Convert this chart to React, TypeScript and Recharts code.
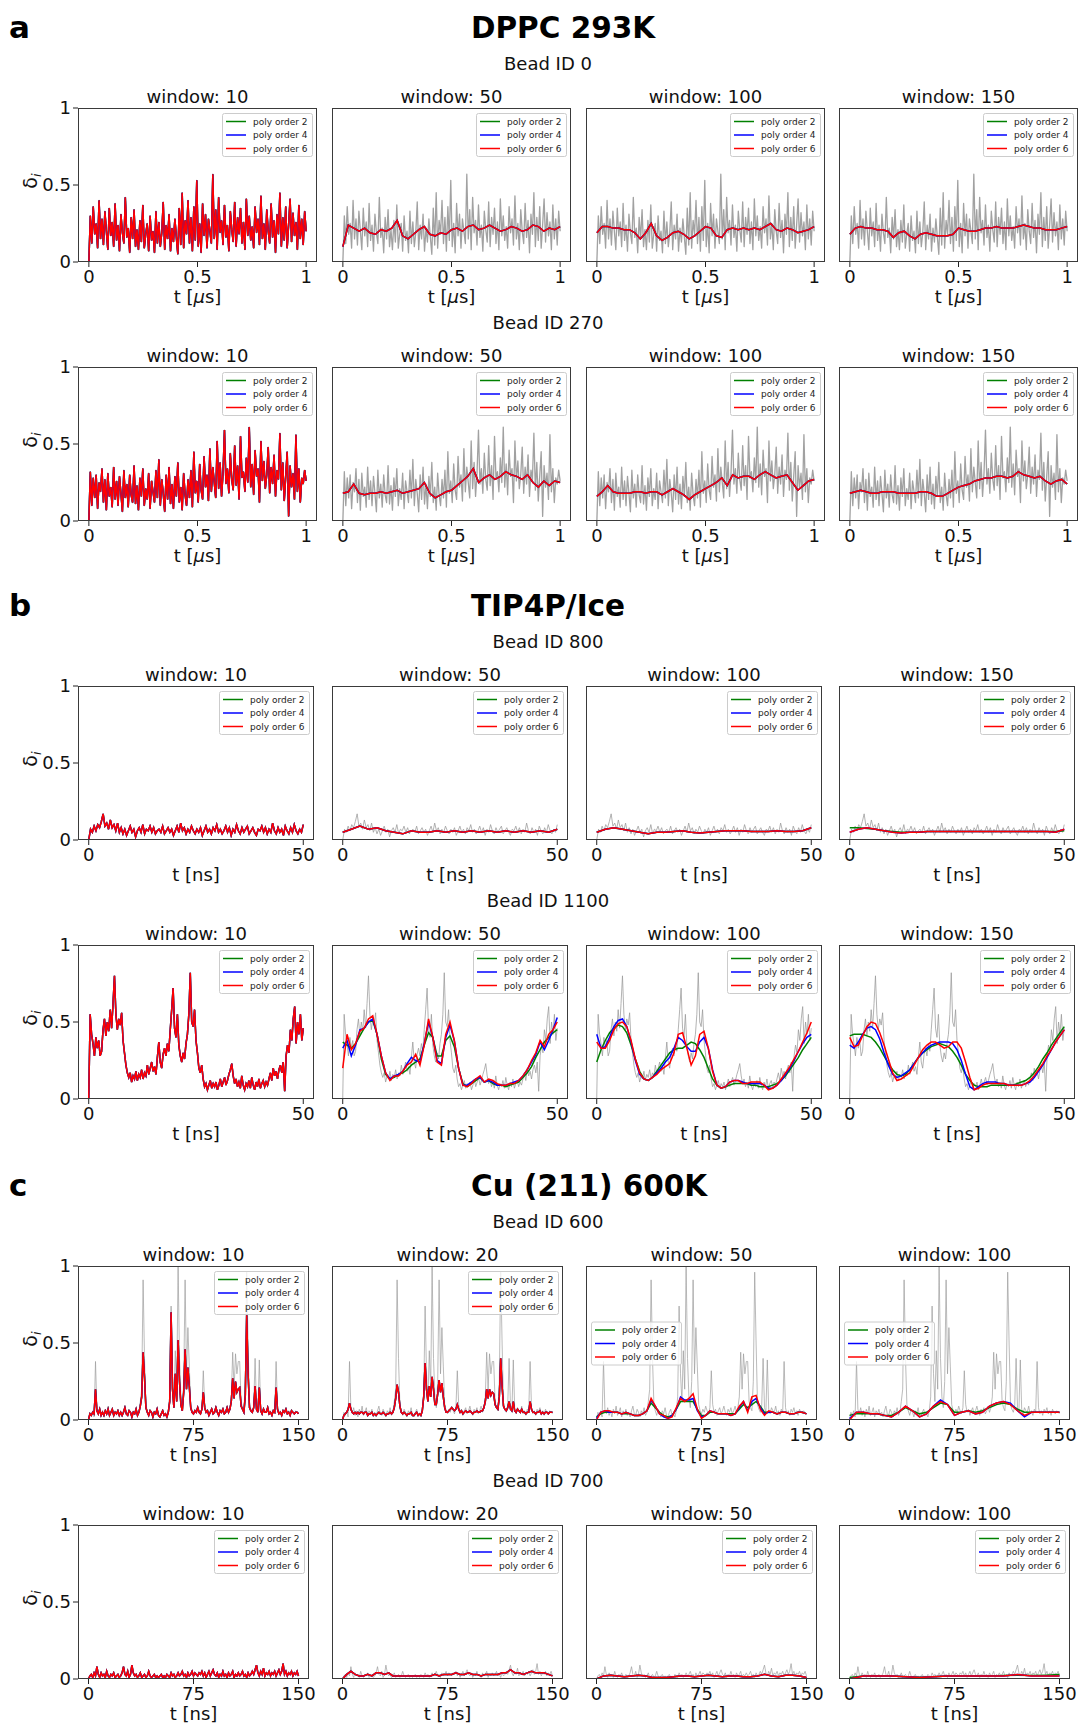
import React from 'react';
import { LineChart, Line, XAxis, YAxis } from 'recharts';

const FONT = '"DejaVu Sans", Verdana, sans-serif';

// ---------- a: DPPC 293K (t in µs) ----------
const A1_RAW = [
  0.0, 0.3, 0.12, 0.36, 0.18, 0.25, 0.09, 0.4, 0.15, 0.28,
  0.11, 0.33, 0.2, 0.08, 0.35, 0.17, 0.26, 0.1, 0.38, 0.14,
  0.24, 0.07, 0.31, 0.19, 0.12, 0.42, 0.16, 0.22, 0.06, 0.29,
  0.15, 0.34, 0.1, 0.21, 0.08, 0.27, 0.13, 0.37, 0.09, 0.18,
  0.25, 0.07, 0.3, 0.14, 0.2, 0.06, 0.33, 0.12, 0.26, 0.1,
  0.19, 0.39, 0.08, 0.24, 0.15, 0.31, 0.07, 0.22, 0.13, 0.28,
  0.16, 0.05, 0.35, 0.11, 0.45, 0.09, 0.27, 0.18, 0.4, 0.12,
  0.29, 0.07, 0.36, 0.14, 0.53, 0.1, 0.25, 0.06, 0.38, 0.17,
  0.31, 0.09, 0.28, 0.2, 0.12, 0.57, 0.15, 0.34, 0.08, 0.42,
  0.19, 0.27, 0.11, 0.37, 0.16, 0.24, 0.07, 0.33, 0.21, 0.13,
  0.39, 0.1, 0.29, 0.18, 0.35, 0.12, 0.26, 0.08, 0.41, 0.17,
  0.3, 0.14, 0.23, 0.09, 0.36, 0.19, 0.28, 0.11, 0.43, 0.15,
  0.25, 0.08, 0.34, 0.2, 0.12, 0.38, 0.16, 0.27, 0.06, 0.31,
  0.18, 0.45, 0.1, 0.29, 0.14, 0.36, 0.09, 0.24, 0.41, 0.13,
  0.32, 0.17, 0.26, 0.08, 0.37, 0.15, 0.28, 0.11, 0.33, 0.2,
];
const A1_W50 = [
  0.1, 0.24, 0.22, 0.2, 0.22, 0.19, 0.18, 0.21, 0.2, 0.22,
  0.27, 0.17, 0.15, 0.18, 0.21, 0.23, 0.18, 0.17, 0.19, 0.18,
  0.21, 0.22, 0.2, 0.23, 0.24, 0.21, 0.22, 0.24, 0.22, 0.2,
  0.21, 0.23, 0.22, 0.2, 0.21, 0.24, 0.23, 0.2, 0.22, 0.21, 0.23,
];
const A1_W100 = [
  0.19, 0.23, 0.23, 0.22, 0.22, 0.21, 0.21, 0.19, 0.15, 0.19,
  0.25, 0.17, 0.14, 0.16, 0.19, 0.2, 0.18, 0.15, 0.17, 0.2,
  0.23, 0.22, 0.17, 0.16, 0.21, 0.22, 0.21, 0.22, 0.21, 0.22,
  0.21, 0.23, 0.25, 0.21, 0.2, 0.22, 0.21, 0.19, 0.2, 0.21, 0.23,
];
const A1_W150 = [
  0.18, 0.22, 0.23, 0.22, 0.22, 0.21, 0.21, 0.2, 0.16, 0.19,
  0.2, 0.17, 0.15, 0.18, 0.19, 0.18, 0.17, 0.17, 0.17, 0.18,
  0.22, 0.21, 0.2, 0.2, 0.21, 0.22, 0.22, 0.23, 0.22, 0.22,
  0.22, 0.23, 0.24, 0.23, 0.22, 0.22, 0.21, 0.21, 0.21, 0.22, 0.23,
];

const A2_RAW = [
  0.0, 0.32, 0.1, 0.28, 0.15, 0.3, 0.08, 0.25, 0.19, 0.34,
  0.12, 0.27, 0.07, 0.31, 0.16, 0.22, 0.09, 0.35, 0.14, 0.26,
  0.1, 0.29, 0.18, 0.06, 0.33, 0.15, 0.24, 0.09, 0.3, 0.17,
  0.12, 0.36, 0.11, 0.23, 0.07, 0.28, 0.16, 0.34, 0.1, 0.21,
  0.14, 0.31, 0.08, 0.26, 0.19, 0.12, 0.33, 0.15, 0.4, 0.1,
  0.27, 0.18, 0.06, 0.3, 0.14, 0.35, 0.11, 0.24, 0.08, 0.29,
  0.16, 0.38, 0.12, 0.22, 0.07, 0.31, 0.17, 0.1, 0.27, 0.15,
  0.33, 0.09, 0.45, 0.18, 0.26, 0.12, 0.37, 0.2, 0.14, 0.42,
  0.22, 0.3, 0.13, 0.47, 0.19, 0.35, 0.25, 0.15, 0.52, 0.21,
  0.38, 0.16, 0.31, 0.59, 0.24, 0.34, 0.18, 0.44, 0.27, 0.2,
  0.49, 0.23, 0.36, 0.14, 0.55, 0.28, 0.32, 0.19, 0.41, 0.25,
  0.61, 0.22, 0.37, 0.17, 0.46, 0.29, 0.34, 0.12, 0.52, 0.26,
  0.39, 0.21, 0.3, 0.48, 0.18, 0.35, 0.24, 0.43, 0.16, 0.33,
  0.27, 0.57, 0.2, 0.38, 0.13, 0.29, 0.45, 0.03, 0.36, 0.22,
  0.31, 0.14, 0.56, 0.19, 0.34, 0.12, 0.28, 0.24, 0.33, 0.26,
];
const A2_W50 = [
  0.18, 0.19, 0.24, 0.18, 0.17, 0.18, 0.18, 0.19, 0.18, 0.19,
  0.2, 0.18, 0.19, 0.2, 0.21, 0.25, 0.18, 0.15, 0.17, 0.19,
  0.2, 0.23, 0.26, 0.29, 0.34, 0.25, 0.28, 0.3, 0.27, 0.29,
  0.32, 0.3, 0.29, 0.27, 0.3, 0.25, 0.22, 0.26, 0.23, 0.26, 0.25,
];
const A2_W100 = [
  0.16, 0.19, 0.23, 0.19, 0.18, 0.18, 0.18, 0.19, 0.19, 0.18,
  0.19, 0.19, 0.17, 0.19, 0.21, 0.19, 0.17, 0.14, 0.17, 0.19,
  0.21, 0.23, 0.25, 0.28, 0.23, 0.3, 0.28, 0.29, 0.29, 0.27,
  0.3, 0.32, 0.3, 0.28, 0.29, 0.3, 0.25, 0.2, 0.23, 0.26, 0.27,
];
const A2_W150 = [
  0.18, 0.19, 0.2, 0.19, 0.18, 0.18, 0.19, 0.19, 0.19, 0.18,
  0.18, 0.18, 0.18, 0.19, 0.19, 0.18, 0.16, 0.16, 0.18, 0.2,
  0.22, 0.23, 0.24, 0.26, 0.27, 0.28, 0.28, 0.29, 0.29, 0.28,
  0.29, 0.32, 0.3, 0.29, 0.28, 0.29, 0.26, 0.24, 0.26, 0.27, 0.24,
];

// ---------- b: TIP4P/Ice (t in ns) ----------
const B1_RAW = [
  0.0, 0.07, 0.05, 0.09, 0.06, 0.1, 0.08, 0.12, 0.17, 0.09,
  0.11, 0.07, 0.13, 0.08, 0.1, 0.06, 0.11, 0.05, 0.08, 0.04,
  0.07, 0.03, 0.06, 0.09, 0.05, 0.07, 0.02, 0.06, 0.08, 0.05,
  0.1, 0.04, 0.07, 0.06, 0.09, 0.05, 0.08, 0.04, 0.06, 0.07,
  0.05, 0.09, 0.04, 0.06, 0.08, 0.05, 0.07, 0.03, 0.06, 0.09,
  0.05, 0.11, 0.06, 0.08, 0.04, 0.07, 0.05, 0.09, 0.06, 0.04,
  0.07, 0.05, 0.08, 0.03, 0.06, 0.09, 0.05, 0.07, 0.04, 0.08,
  0.06, 0.1, 0.05, 0.07, 0.04, 0.06, 0.09, 0.05, 0.08, 0.03,
  0.07, 0.05, 0.1, 0.06, 0.04, 0.08, 0.05, 0.07, 0.09, 0.04,
  0.06, 0.08, 0.05, 0.03, 0.07, 0.06, 0.09, 0.05, 0.08, 0.04,
  0.07, 0.05, 0.11, 0.06, 0.04, 0.08, 0.05, 0.07, 0.03, 0.09,
  0.06, 0.04, 0.08, 0.05, 0.1, 0.06, 0.04, 0.07, 0.05, 0.1,
];
const B1_W50 = [
  0.05, 0.07, 0.09, 0.07, 0.08, 0.06, 0.05, 0.04, 0.06, 0.05,
  0.05, 0.06, 0.05, 0.06, 0.05, 0.06, 0.05, 0.06, 0.05, 0.06,
  0.05, 0.06, 0.05, 0.06, 0.05, 0.07,
];
const B1_W100 = [
  0.05, 0.07, 0.08, 0.07, 0.06, 0.05, 0.04, 0.05, 0.05, 0.055,
  0.06, 0.05, 0.045, 0.05, 0.055, 0.06, 0.06, 0.06, 0.055, 0.055,
  0.055, 0.06, 0.055, 0.055, 0.06, 0.08,
];
const B1_W150 = [
  0.05, 0.07, 0.08, 0.07, 0.06, 0.05, 0.045, 0.05, 0.05, 0.055,
  0.055, 0.055, 0.055, 0.055, 0.055, 0.055, 0.055, 0.055, 0.055, 0.055,
  0.055, 0.055, 0.055, 0.055, 0.05, 0.07,
];
const B1_W150_O2 = [
  0.08, 0.08, 0.075, 0.07, 0.06, 0.055, 0.05, 0.05, 0.05, 0.055,
  0.055, 0.055, 0.055, 0.055, 0.055, 0.055, 0.055, 0.055, 0.055, 0.055,
  0.055, 0.055, 0.055, 0.055, 0.055, 0.06,
];

const B2_RAW = [
  0.0, 0.55, 0.42, 0.36, 0.28, 0.4, 0.33, 0.38, 0.28, 0.31,
  0.45, 0.52, 0.41, 0.5, 0.44, 0.58, 0.46, 0.62, 0.8, 0.55,
  0.45, 0.52, 0.48, 0.56, 0.38, 0.3, 0.22, 0.17, 0.14, 0.17,
  0.11, 0.15, 0.13, 0.18, 0.12, 0.16, 0.14, 0.19, 0.13, 0.17,
  0.15, 0.22, 0.16, 0.2, 0.24, 0.18, 0.21, 0.16, 0.27, 0.37,
  0.24, 0.2, 0.29, 0.33, 0.28, 0.36, 0.31, 0.45, 0.58, 0.72,
  0.46, 0.4, 0.55, 0.35, 0.28, 0.24, 0.3, 0.26, 0.36, 0.42,
  0.55, 0.82, 0.5, 0.47, 0.58, 0.38, 0.3, 0.2, 0.17, 0.22,
  0.13, 0.08, 0.1, 0.06, 0.09, 0.12, 0.07, 0.1, 0.08, 0.11,
  0.06, 0.09, 0.13, 0.08, 0.11, 0.14, 0.09, 0.12, 0.16, 0.19,
  0.23, 0.15, 0.1, 0.13, 0.08, 0.11, 0.07, 0.15, 0.09, 0.06,
  0.1, 0.08, 0.12, 0.07, 0.14, 0.09, 0.06, 0.11, 0.08, 0.13,
  0.07, 0.1, 0.12, 0.08, 0.11, 0.09, 0.13, 0.17, 0.12, 0.2,
  0.15, 0.18, 0.13, 0.19, 0.22, 0.17, 0.24, 0.05, 0.28, 0.35,
  0.3, 0.45, 0.38, 0.52, 0.6, 0.36, 0.5, 0.42, 0.55, 0.38, 0.46,
];
const B2_W50_O2 = [
  0.37, 0.35, 0.33, 0.36, 0.41, 0.46, 0.5, 0.51, 0.42, 0.26,
  0.16, 0.13, 0.14, 0.16, 0.17, 0.19, 0.22, 0.24, 0.26, 0.35,
  0.43, 0.4, 0.28, 0.28, 0.38, 0.41, 0.34, 0.2, 0.1, 0.08,
  0.1, 0.12, 0.14, 0.11, 0.12, 0.1, 0.09, 0.09, 0.08, 0.09,
  0.1, 0.11, 0.14, 0.17, 0.21, 0.27, 0.32, 0.37, 0.4, 0.43, 0.45,
];
const B2_W50_O4 = [
  0.33, 0.38, 0.28, 0.35, 0.45, 0.46, 0.5, 0.52, 0.42, 0.28,
  0.17, 0.13, 0.15, 0.16, 0.18, 0.23, 0.27, 0.25, 0.24, 0.36,
  0.5, 0.4, 0.25, 0.23, 0.4, 0.48, 0.38, 0.2, 0.09, 0.09,
  0.11, 0.13, 0.14, 0.11, 0.12, 0.11, 0.09, 0.09, 0.09, 0.1,
  0.11, 0.12, 0.15, 0.19, 0.24, 0.29, 0.37, 0.32, 0.38, 0.45, 0.53,
];
const B2_W50_O6 = [
  0.2, 0.42, 0.32, 0.36, 0.44, 0.46, 0.52, 0.54, 0.42, 0.28,
  0.17, 0.12, 0.15, 0.15, 0.18, 0.22, 0.24, 0.29, 0.22, 0.35,
  0.52, 0.4, 0.24, 0.22, 0.42, 0.5, 0.38, 0.2, 0.09, 0.08,
  0.1, 0.13, 0.15, 0.11, 0.13, 0.12, 0.1, 0.09, 0.09, 0.1,
  0.1, 0.12, 0.15, 0.19, 0.25, 0.3, 0.38, 0.34, 0.42, 0.45, 0.5,
];
const B2_W100_O2 = [
  0.24, 0.32, 0.38, 0.43, 0.46, 0.48, 0.47, 0.43, 0.35, 0.26,
  0.18, 0.13, 0.12, 0.14, 0.18, 0.22, 0.26, 0.3, 0.32, 0.33,
  0.33, 0.35, 0.37, 0.36, 0.32, 0.27, 0.2, 0.13, 0.09, 0.07,
  0.08, 0.09, 0.1, 0.1, 0.1, 0.1, 0.09, 0.09, 0.08, 0.08,
  0.08, 0.09, 0.1, 0.12, 0.15, 0.19, 0.23, 0.27, 0.32, 0.36, 0.4,
];
const B2_W100_O4 = [
  0.42, 0.33, 0.34, 0.4, 0.47, 0.51, 0.52, 0.47, 0.37, 0.25,
  0.16, 0.13, 0.12, 0.14, 0.17, 0.2, 0.24, 0.27, 0.33, 0.4,
  0.38, 0.34, 0.31, 0.31, 0.37, 0.4, 0.33, 0.19, 0.09, 0.07,
  0.08, 0.11, 0.12, 0.12, 0.11, 0.1, 0.1, 0.1, 0.1, 0.09,
  0.07, 0.07, 0.09, 0.12, 0.16, 0.2, 0.25, 0.31, 0.36, 0.4, 0.42,
];
const B2_W100_O6 = [
  0.37, 0.33, 0.33, 0.38, 0.45, 0.49, 0.5, 0.47, 0.38, 0.26,
  0.17, 0.13, 0.12, 0.14, 0.16, 0.19, 0.21, 0.23, 0.3, 0.42,
  0.43, 0.33, 0.22, 0.28, 0.42, 0.44, 0.33, 0.18, 0.09, 0.07,
  0.08, 0.11, 0.12, 0.12, 0.1, 0.1, 0.11, 0.11, 0.11, 0.09,
  0.06, 0.07, 0.09, 0.13, 0.17, 0.21, 0.26, 0.31, 0.37, 0.43, 0.5,
];
const B2_W150_O2 = [
  0.41, 0.42, 0.42, 0.42, 0.41, 0.4, 0.37, 0.33, 0.28, 0.23,
  0.19, 0.16, 0.15, 0.16, 0.19, 0.23, 0.27, 0.3, 0.32, 0.34,
  0.35, 0.36, 0.35, 0.34, 0.31, 0.27, 0.22, 0.16, 0.12, 0.09,
  0.08, 0.08, 0.08, 0.09, 0.09, 0.09, 0.09, 0.09, 0.09, 0.1,
  0.11, 0.12, 0.14, 0.17, 0.21, 0.26, 0.3, 0.35, 0.39, 0.43, 0.47,
];
const B2_W150_O4 = [
  0.35, 0.33, 0.37, 0.42, 0.46, 0.47, 0.45, 0.39, 0.3, 0.22,
  0.16, 0.14, 0.15, 0.17, 0.19, 0.23, 0.27, 0.3, 0.33, 0.35,
  0.36, 0.37, 0.37, 0.37, 0.36, 0.32, 0.25, 0.16, 0.08, 0.06,
  0.08, 0.1, 0.11, 0.11, 0.11, 0.1, 0.1, 0.09, 0.09, 0.09,
  0.09, 0.1, 0.11, 0.14, 0.18, 0.22, 0.27, 0.32, 0.37, 0.41, 0.45,
];
const B2_W150_O6 = [
  0.4, 0.34, 0.35, 0.41, 0.47, 0.5, 0.49, 0.43, 0.35, 0.26,
  0.17, 0.12, 0.13, 0.15, 0.17, 0.22, 0.27, 0.32, 0.35, 0.37,
  0.37, 0.35, 0.33, 0.34, 0.37, 0.37, 0.33, 0.24, 0.14, 0.06,
  0.07, 0.09, 0.1, 0.1, 0.1, 0.1, 0.1, 0.09, 0.09, 0.09,
  0.09, 0.1, 0.12, 0.15, 0.19, 0.23, 0.28, 0.32, 0.37, 0.41, 0.45,
];

// ---------- c: Cu (211) 600K (t in ns) ----------
const C1_RAW = [
  0.0, 0.05, 0.03, 0.06, 0.02, 0.38, 0.07, 0.04, 0.08, 0.03,
  0.06, 0.02, 0.07, 0.04, 0.09, 0.03, 0.05, 0.08, 0.02, 0.06,
  0.04, 0.07, 0.03, 0.05, 0.02, 0.06, 0.09, 0.04, 0.03, 0.07,
  0.05, 0.02, 0.06, 0.04, 0.08, 0.03, 0.05, 0.12, 0.2, 0.91,
  0.4, 0.1, 0.06, 0.03, 0.07, 0.05, 0.02, 0.06, 0.04, 0.08,
  0.03, 0.02, 0.05, 0.07, 0.03, 0.04, 0.02, 0.06, 0.15, 0.74,
  0.3, 0.12, 0.45, 0.2, 1.0, 0.4, 0.15, 0.08, 0.25, 0.91,
  0.3, 0.6, 0.35, 0.1, 0.06, 0.04, 0.07, 0.05, 0.09, 0.06,
  0.04, 0.08, 0.32, 0.1, 0.05, 0.07, 0.03, 0.06, 0.08, 0.04,
  0.06, 0.09, 0.05, 0.03, 0.07, 0.05, 0.08, 0.04, 0.06, 0.09,
  0.05, 0.08, 0.15, 0.44, 0.2, 0.43, 0.3, 0.38, 0.38, 0.12,
  0.08, 0.06, 0.25, 0.96, 0.5, 0.1, 0.07, 0.05, 0.09, 0.4,
  0.08, 0.05, 0.39, 0.07, 0.04, 0.08, 0.06, 0.05, 0.09, 0.04,
  0.06, 0.03, 0.07, 0.05, 0.38, 0.08, 0.04, 0.06, 0.03, 0.07,
  0.05, 0.08, 0.04, 0.06, 0.03, 0.07, 0.05, 0.04, 0.06, 0.05, 0.04,
];
const C1_W10 = [
  0.0, 0.04, 0.03, 0.05, 0.04, 0.2, 0.06, 0.04, 0.07, 0.03,
  0.05, 0.03, 0.06, 0.04, 0.07, 0.03, 0.05, 0.07, 0.03, 0.05,
  0.04, 0.06, 0.03, 0.05, 0.03, 0.05, 0.08, 0.04, 0.03, 0.06,
  0.05, 0.02, 0.05, 0.04, 0.07, 0.03, 0.05, 0.09, 0.15, 0.44,
  0.28, 0.08, 0.05, 0.03, 0.06, 0.05, 0.02, 0.05, 0.04, 0.07,
  0.03, 0.02, 0.04, 0.06, 0.03, 0.04, 0.02, 0.05, 0.12, 0.7,
  0.2, 0.08, 0.3, 0.12, 0.52, 0.25, 0.1, 0.06, 0.18, 0.46,
  0.2, 0.34, 0.22, 0.08, 0.05, 0.04, 0.06, 0.05, 0.08, 0.05,
  0.04, 0.07, 0.18, 0.08, 0.05, 0.06, 0.03, 0.05, 0.07, 0.04,
  0.05, 0.08, 0.05, 0.03, 0.06, 0.05, 0.07, 0.04, 0.05, 0.08,
  0.05, 0.07, 0.12, 0.27, 0.14, 0.25, 0.18, 0.2, 0.21, 0.09,
  0.07, 0.05, 0.16, 0.68, 0.3, 0.08, 0.06, 0.05, 0.08, 0.22,
  0.07, 0.05, 0.21, 0.06, 0.04, 0.07, 0.05, 0.05, 0.08, 0.04,
  0.05, 0.03, 0.06, 0.05, 0.21, 0.07, 0.04, 0.05, 0.03, 0.06,
  0.05, 0.07, 0.04, 0.05, 0.03, 0.06, 0.05, 0.04, 0.05, 0.05, 0.04,
];
const C1_W20 = [
  0.0, 0.03, 0.04, 0.05, 0.07, 0.11, 0.07, 0.05, 0.04, 0.05,
  0.04, 0.05, 0.04, 0.05, 0.05, 0.04, 0.05, 0.05, 0.03, 0.04,
  0.04, 0.05, 0.03, 0.04, 0.03, 0.04, 0.05, 0.04, 0.04, 0.05,
  0.04, 0.03, 0.04, 0.04, 0.05, 0.04, 0.05, 0.08, 0.14, 0.23,
  0.18, 0.09, 0.05, 0.04, 0.05, 0.04, 0.03, 0.04, 0.04, 0.05,
  0.03, 0.03, 0.04, 0.05, 0.03, 0.04, 0.03, 0.06, 0.15, 0.37,
  0.2, 0.12, 0.22, 0.15, 0.28, 0.2, 0.1, 0.1, 0.17, 0.26,
  0.18, 0.24, 0.15, 0.08, 0.05, 0.05, 0.06, 0.07, 0.08, 0.07,
  0.06, 0.07, 0.1, 0.07, 0.05, 0.06, 0.04, 0.05, 0.06, 0.05,
  0.05, 0.06, 0.05, 0.04, 0.05, 0.05, 0.06, 0.05, 0.05, 0.06,
  0.06, 0.08, 0.12, 0.2, 0.14, 0.2, 0.16, 0.18, 0.17, 0.1,
  0.08, 0.07, 0.15, 0.4, 0.22, 0.09, 0.07, 0.06, 0.08, 0.12,
  0.07, 0.06, 0.12, 0.06, 0.05, 0.07, 0.06, 0.05, 0.07, 0.05,
  0.05, 0.04, 0.05, 0.05, 0.12, 0.07, 0.05, 0.05, 0.04, 0.05,
  0.05, 0.06, 0.04, 0.05, 0.04, 0.05, 0.05, 0.04, 0.05, 0.05, 0.05,
];
const C1_W50_O2 = [
  0.02, 0.04, 0.05, 0.05, 0.05, 0.05, 0.04, 0.04, 0.04, 0.03,
  0.03, 0.04, 0.06, 0.11, 0.08, 0.05, 0.03, 0.02, 0.03, 0.07,
  0.12, 0.12, 0.12, 0.12, 0.07, 0.03, 0.03, 0.05, 0.05, 0.04,
  0.04, 0.04, 0.04, 0.04, 0.07, 0.1, 0.08, 0.1, 0.12, 0.09,
  0.05, 0.05, 0.05, 0.04, 0.05, 0.05, 0.04, 0.04, 0.05, 0.05, 0.04,
];
const C1_W50_O4 = [
  0.01, 0.05, 0.06, 0.05, 0.05, 0.05, 0.04, 0.05, 0.04, 0.03,
  0.03, 0.04, 0.06, 0.13, 0.09, 0.04, 0.02, 0.01, 0.03, 0.07,
  0.15, 0.13, 0.13, 0.14, 0.06, 0.02, 0.03, 0.06, 0.05, 0.04,
  0.04, 0.04, 0.03, 0.04, 0.08, 0.12, 0.06, 0.12, 0.14, 0.08,
  0.04, 0.05, 0.05, 0.04, 0.05, 0.05, 0.04, 0.04, 0.05, 0.05, 0.04,
];
const C1_W50_O6 = [
  0.0, 0.05, 0.06, 0.06, 0.05, 0.05, 0.04, 0.05, 0.04, 0.03,
  0.03, 0.04, 0.06, 0.14, 0.09, 0.04, 0.03, 0.01, 0.02, 0.08,
  0.14, 0.12, 0.14, 0.17, 0.07, 0.01, 0.03, 0.06, 0.05, 0.04,
  0.04, 0.04, 0.03, 0.04, 0.09, 0.12, 0.05, 0.15, 0.16, 0.07,
  0.03, 0.06, 0.05, 0.04, 0.05, 0.05, 0.04, 0.04, 0.05, 0.05, 0.04,
];
const C1_W100_O2 = [
  0.03, 0.04, 0.04, 0.04, 0.04, 0.03, 0.03, 0.05, 0.08, 0.06,
  0.04, 0.05, 0.08, 0.11, 0.1, 0.05, 0.05, 0.06, 0.05, 0.06,
  0.08, 0.1, 0.11, 0.1, 0.07, 0.05, 0.05, 0.05, 0.05, 0.05, 0.05,
];
const C1_W100_O4 = [
  0.01, 0.05, 0.05, 0.04, 0.04, 0.03, 0.02, 0.05, 0.09, 0.06,
  0.02, 0.04, 0.09, 0.13, 0.1, 0.03, 0.05, 0.06, 0.04, 0.05,
  0.09, 0.11, 0.12, 0.11, 0.06, 0.02, 0.05, 0.05, 0.05, 0.05, 0.05,
];
const C1_W100_O6 = [
  0.0, 0.05, 0.05, 0.04, 0.04, 0.03, 0.02, 0.05, 0.09, 0.06,
  0.02, 0.04, 0.09, 0.12, 0.1, 0.03, 0.05, 0.06, 0.04, 0.05,
  0.09, 0.11, 0.12, 0.1, 0.06, 0.03, 0.05, 0.05, 0.05, 0.05, 0.05,
];

const C2_RAW = [
  0.0, 0.02, 0.03, 0.01, 0.04, 0.02, 0.08, 0.03, 0.01, 0.04,
  0.02, 0.03, 0.01, 0.05, 0.02, 0.01, 0.03, 0.02, 0.04, 0.01,
  0.02, 0.03, 0.01, 0.02, 0.04, 0.08, 0.03, 0.02, 0.05, 0.01,
  0.03, 0.09, 0.04, 0.02, 0.03, 0.01, 0.02, 0.04, 0.01, 0.02,
  0.03, 0.01, 0.02, 0.05, 0.02, 0.01, 0.02, 0.03, 0.01, 0.02,
  0.01, 0.02, 0.03, 0.01, 0.02, 0.01, 0.03, 0.02, 0.01, 0.04,
  0.02, 0.03, 0.01, 0.02, 0.04, 0.02, 0.03, 0.05, 0.02, 0.03,
  0.01, 0.04, 0.02, 0.03, 0.05, 0.02, 0.04, 0.03, 0.02, 0.04,
  0.03, 0.05, 0.02, 0.04, 0.01, 0.03, 0.05, 0.02, 0.04, 0.06,
  0.03, 0.02, 0.04, 0.01, 0.03, 0.02, 0.05, 0.02, 0.03, 0.01,
  0.04, 0.02, 0.03, 0.05, 0.01, 0.03, 0.02, 0.04, 0.02, 0.03,
  0.05, 0.02, 0.03, 0.01, 0.04, 0.02, 0.03, 0.05, 0.03, 0.06,
  0.09, 0.04, 0.02, 0.05, 0.03, 0.07, 0.02, 0.04, 0.03, 0.05,
  0.02, 0.04, 0.03, 0.05, 0.02, 0.04, 0.06, 0.03, 0.05, 0.1,
  0.03, 0.05, 0.02, 0.04, 0.03, 0.05, 0.02, 0.04, 0.03, 0.05, 0.02,
];
const C2_W20 = [
  0.0, 0.03, 0.05, 0.03, 0.02, 0.02, 0.03, 0.02, 0.04, 0.04,
  0.03, 0.04, 0.02, 0.02, 0.02, 0.02, 0.02, 0.02, 0.02, 0.02,
  0.02, 0.02, 0.03, 0.02, 0.03, 0.03, 0.03, 0.04, 0.03, 0.03,
  0.04, 0.03, 0.03, 0.02, 0.03, 0.03, 0.03, 0.03, 0.04, 0.04,
  0.06, 0.04, 0.04, 0.03, 0.04, 0.05, 0.04, 0.04, 0.04, 0.03, 0.02,
];
const C2_W50 = [
  0.0, 0.02, 0.025, 0.02, 0.015, 0.02, 0.025, 0.02, 0.01, 0.01,
  0.01, 0.015, 0.02, 0.02, 0.015, 0.02, 0.025, 0.02, 0.015, 0.02,
  0.02, 0.015, 0.015, 0.02, 0.03, 0.02, 0.015, 0.025, 0.025, 0.02, 0.01,
];
const C2_W100 = [
  0.0, 0.02, 0.02, 0.02, 0.015, 0.01, 0.015, 0.02,
  0.02, 0.02, 0.02, 0.02, 0.03, 0.02, 0.02, 0.02,
];
const C2_W100_O2 = [
  0.01, 0.02, 0.02, 0.02, 0.015, 0.012, 0.015, 0.02,
  0.02, 0.02, 0.02, 0.022, 0.025, 0.022, 0.025, 0.03,
];

// ---------- tick labels, titles ----------
const ORDER_LABELS = ['poly order 2', 'poly order 4', 'poly order 6'];
const ORDER_COLORS = ['#008000', '#0000ff', '#ff0000'];
const Y_TICKS = [0, 0.5, 1];
const TICKS_US = [0, 0.5, 1];
const TICKS_NS50 = [0, 50];
const TICKS_NS150 = [0, 75, 150];

// ---------- layout ----------
const COL_LEFT = [78, 332, 586, 839];
const PANEL_H = 154;

type Pt = { t: number; v: number };
const toSeries = (vals: number[], tEnd: number): Pt[] =>
  vals.map((v, i) => ({ t: (i * tEnd) / (vals.length - 1), v }));

type PanelSpec = {
  win: number;
  o2: number[];
  o4: number[];
  o6: number[];
  legend?: 'ur' | 'cl';
};
type RowSpec = {
  top: number;
  bead: string;
  raw: number[];
  panels: PanelSpec[];
};
type SectionSpec = {
  letter: string;
  title: string;
  width: number;
  tMax: number;
  ticks: number[];
  unit: 'us' | 'ns';
  rawStroke: { color: string; width: number; opacity: number };
  rows: RowSpec[];
};

const SECTIONS: SectionSpec[] = [
  {
    letter: 'a',
    title: 'DPPC 293K',
    width: 239,
    tMax: 1,
    ticks: TICKS_US,
    unit: 'us',
    rawStroke: { color: '#8a8a8a', width: 1.3, opacity: 0.8 },
    rows: [
      {
        top: 108,
        bead: 'Bead ID 0',
        raw: A1_RAW,
        panels: [
          { win: 10, o2: A1_RAW, o4: A1_RAW, o6: A1_RAW },
          { win: 50, o2: A1_W50, o4: A1_W50, o6: A1_W50 },
          { win: 100, o2: A1_W100, o4: A1_W100, o6: A1_W100 },
          { win: 150, o2: A1_W150, o4: A1_W150, o6: A1_W150 },
        ],
      },
      {
        top: 367,
        bead: 'Bead ID 270',
        raw: A2_RAW,
        panels: [
          { win: 10, o2: A2_RAW, o4: A2_RAW, o6: A2_RAW },
          { win: 50, o2: A2_W50, o4: A2_W50, o6: A2_W50 },
          { win: 100, o2: A2_W100, o4: A2_W100, o6: A2_W100 },
          { win: 150, o2: A2_W150, o4: A2_W150, o6: A2_W150 },
        ],
      },
    ],
  },
  {
    letter: 'b',
    title: 'TIP4P/Ice',
    width: 236,
    tMax: 50,
    ticks: TICKS_NS50,
    unit: 'ns',
    rawStroke: { color: '#999999', width: 1, opacity: 0.75 },
    rows: [
      {
        top: 686,
        bead: 'Bead ID 800',
        raw: B1_RAW,
        panels: [
          { win: 10, o2: B1_RAW, o4: B1_RAW, o6: B1_RAW },
          { win: 50, o2: B1_W50, o4: B1_W50, o6: B1_W50 },
          { win: 100, o2: B1_W100, o4: B1_W100, o6: B1_W100 },
          { win: 150, o2: B1_W150_O2, o4: B1_W150, o6: B1_W150 },
        ],
      },
      {
        top: 945,
        bead: 'Bead ID 1100',
        raw: B2_RAW,
        panels: [
          { win: 10, o2: B2_RAW, o4: B2_RAW, o6: B2_RAW },
          { win: 50, o2: B2_W50_O2, o4: B2_W50_O4, o6: B2_W50_O6 },
          { win: 100, o2: B2_W100_O2, o4: B2_W100_O4, o6: B2_W100_O6 },
          { win: 150, o2: B2_W150_O2, o4: B2_W150_O4, o6: B2_W150_O6 },
        ],
      },
    ],
  },
  {
    letter: 'c',
    title: 'Cu (211) 600K',
    width: 231,
    tMax: 150,
    ticks: TICKS_NS150,
    unit: 'ns',
    rawStroke: { color: '#9a9a9a', width: 0.9, opacity: 0.75 },
    rows: [
      {
        top: 1266,
        bead: 'Bead ID 600',
        raw: C1_RAW,
        panels: [
          { win: 10, o2: C1_W10, o4: C1_W10, o6: C1_W10 },
          { win: 20, o2: C1_W20, o4: C1_W20, o6: C1_W20 },
          { win: 50, o2: C1_W50_O2, o4: C1_W50_O4, o6: C1_W50_O6, legend: 'cl' },
          { win: 100, o2: C1_W100_O2, o4: C1_W100_O4, o6: C1_W100_O6, legend: 'cl' },
        ],
      },
      {
        top: 1525,
        bead: 'Bead ID 700',
        raw: C2_RAW,
        panels: [
          { win: 10, o2: C2_RAW, o4: C2_RAW, o6: C2_RAW },
          { win: 20, o2: C2_W20, o4: C2_W20, o6: C2_W20 },
          { win: 50, o2: C2_W50, o4: C2_W50, o6: C2_W50 },
          { win: 100, o2: C2_W100_O2, o4: C2_W100, o6: C2_W100 },
        ],
      },
    ],
  },
];

const ML = 60;
const MT = 10;
const MR = 10;
const XH = 40;

const tickStyle = { fill: '#111', fontSize: 18, fontFamily: FONT };

function Panel(props: {
  left: number;
  top: number;
  width: number;
  tMax: number;
  ticks: number[];
  raw: number[];
  rawStroke: { color: string; width: number; opacity: number };
  spec: PanelSpec;
  showY: boolean;
}) {
  const { left, top, width, tMax, ticks, raw, rawStroke, spec, showY } = props;
  const pad = tMax * 0.05;
  const curves = [spec.o2, spec.o4, spec.o6];
  return (
    <div style={{ position: 'absolute', left: left - ML, top: top - MT }}>
      <LineChart
        width={ML + width + MR}
        height={MT + PANEL_H + XH}
        margin={{ top: MT, right: MR, bottom: 0, left: showY ? 0 : ML }}
      >
        <XAxis
          type="number"
          dataKey="t"
          domain={[-pad, tMax + pad]}
          ticks={ticks}
          interval={0}
          allowDataOverflow
          axisLine={false}
          tickLine={{ stroke: '#222' }}
          tickSize={5}
          tickMargin={3}
          height={XH}
          tick={tickStyle}
        />
        <YAxis
          type="number"
          domain={[0, 1]}
          ticks={Y_TICKS}
          interval={0}
          allowDataOverflow
          hide={!showY}
          width={ML}
          axisLine={false}
          tickLine={{ stroke: '#222' }}
          tickSize={5}
          tickMargin={2}
          tick={tickStyle}
        />
        <Line
          data={toSeries(raw, tMax)}
          dataKey="v"
          stroke={rawStroke.color}
          strokeOpacity={rawStroke.opacity}
          strokeWidth={rawStroke.width}
          strokeLinejoin="round"
          dot={false}
          isAnimationActive={false}
        />
        {curves.map((vals, i) => (
          <Line
            key={i}
            data={toSeries(vals, tMax)}
            dataKey="v"
            stroke={ORDER_COLORS[i]}
            strokeWidth={1.5}
            dot={false}
            isAnimationActive={false}
          />
        ))}
      </LineChart>
    </div>
  );
}

function LegendBox({ x, y }: { x: number; y: number }) {
  return (
    <g>
      <rect x={x + 0.5} y={y + 0.5} width={90} height={43} rx={2} fill="#fff" fillOpacity={0.8} stroke="#cccccc" />
      {ORDER_LABELS.map((lab, i) => {
        const cy = y + 8.5 + i * 13.5;
        return (
          <g key={lab}>
            <line x1={x + 4} x2={x + 24} y1={cy} y2={cy} stroke={ORDER_COLORS[i]} strokeWidth={1.5} />
            <text x={x + 31} y={cy + 3.3} fontSize={9} fontFamily={FONT} fill="#222">
              {lab}
            </text>
          </g>
        );
      })}
    </g>
  );
}

function Overlay() {
  const items: React.ReactNode[] = [];
  SECTIONS.forEach((sec, si) => {
    const t0 = sec.rows[0].top;
    items.push(
      <text key={`L${si}`} x={9} y={t0 - 70} fontSize={31} fontWeight="bold" fontFamily={FONT} fill="#000">
        {sec.letter}
      </text>,
      <text key={`T${si}`} x={471} y={t0 - 70} fontSize={29.5} fontWeight="bold" fontFamily={FONT} fill="#000">
        {sec.title}
      </text>
    );
    sec.rows.forEach((row, ri) => {
      const k = `${si}-${ri}`;
      items.push(
        <text key={`B${k}`} x={548} y={row.top - 38} fontSize={18} textAnchor="middle" fontFamily={FONT} fill="#111">
          {row.bead}
        </text>,
        <text
          key={`D${k}`}
          transform={`translate(37 ${row.top + 73}) rotate(-90)`}
          fontSize={19}
          textAnchor="middle"
          fontFamily={FONT}
          fill="#111"
        >
          δ
          <tspan fontSize={13} fontStyle="italic" dy={4}>
            i
          </tspan>
        </text>
      );
      row.panels.forEach((p, ci) => {
        const x = COL_LEFT[ci];
        const cx = x + sec.width / 2;
        items.push(
          <text key={`W${k}-${ci}`} x={cx} y={row.top - 5} fontSize={18} textAnchor="middle" fontFamily={FONT} fill="#111">
            {`window: ${p.win}`}
          </text>,
          <text
            key={`X${k}-${ci}`}
            x={cx}
            y={row.top + PANEL_H + 41}
            fontSize={18}
            textAnchor="middle"
            fontFamily={FONT}
            fill="#111"
          >
            {sec.unit === 'us' ? (
              <>
                t [<tspan fontStyle="italic">μ</tspan>s]
              </>
            ) : (
              't [ns]'
            )}
          </text>,
          <rect
            key={`F${k}-${ci}`}
            x={x + 0.5}
            y={row.top + 0.5}
            width={sec.width - 1}
            height={PANEL_H - 1}
            fill="none"
            stroke="#3a3a3a"
            strokeWidth={1}
          />,
          <LegendBox
            key={`G${k}-${ci}`}
            x={p.legend === 'cl' ? x + 5 : x + sec.width - 95}
            y={p.legend === 'cl' ? row.top + PANEL_H / 2 - 21.5 : row.top + 5}
          />
        );
      });
    });
  });
  return (
    <svg
      width={1079}
      height={1727}
      style={{ position: 'absolute', left: 0, top: 0, pointerEvents: 'none' }}
    >
      {items}
    </svg>
  );
}

export default function App() {
  return (
    <div
      style={{
        position: 'absolute',
        left: 0,
        top: 0,
        width: 1079,
        height: 1727,
        background: '#fff',
        overflow: 'hidden',
        fontFamily: FONT,
      }}
    >
      {SECTIONS.map((sec, si) =>
        sec.rows.map((row, ri) =>
          row.panels.map((p, ci) => (
            <Panel
              key={`${si}-${ri}-${ci}`}
              left={COL_LEFT[ci]}
              top={row.top}
              width={sec.width}
              tMax={sec.tMax}
              ticks={sec.ticks}
              raw={row.raw}
              rawStroke={sec.rawStroke}
              spec={p}
              showY={ci === 0}
            />
          ))
        )
      )}
      <Overlay />
    </div>
  );
}
